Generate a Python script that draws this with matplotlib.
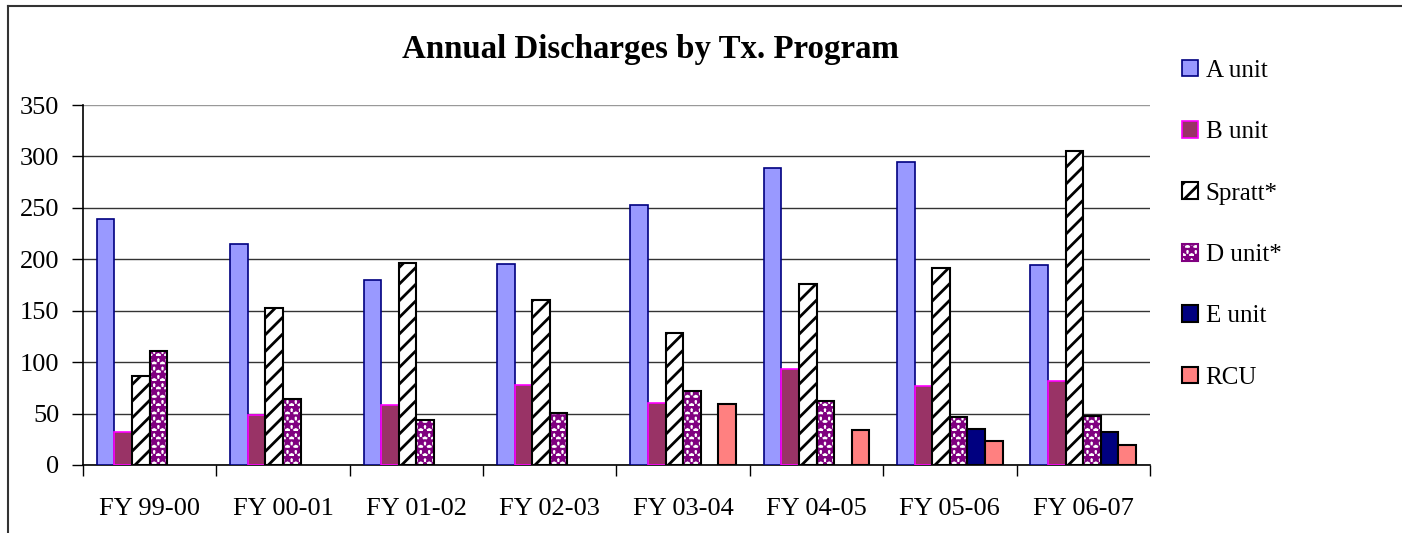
import numpy as np
import matplotlib
matplotlib.use('Agg')
import matplotlib.pyplot as plt
from matplotlib.patches import Patch
from matplotlib.lines import Line2D

plt.rcParams['font.family'] = 'Liberation Serif'
plt.rcParams['hatch.linewidth'] = 2.0

# data (nan = no bar)
years = ['FY 99-00', 'FY 00-01', 'FY 01-02', 'FY 02-03',
         'FY 03-04', 'FY 04-05', 'FY 05-06', 'FY 06-07']
a_unit = [239, 215, 180, 195, 253, 289, 295, 194]
b_unit = [32, 49, 58, 78, 60, 93, 77, 82]
spratt = [87, 153, 196, 160, 128, 176, 192, 305]
d_unit = [111, 64, 44, 51, 72, 62, 47, 48]
e_unit = [np.nan, np.nan, np.nan, np.nan, np.nan, np.nan, 35, 32]
rcu = [np.nan, np.nan, np.nan, np.nan, 59, 34, 23, 19]

fig = plt.figure(figsize=(14.02, 5.33), dpi=100)
ax = fig.add_axes([0.0592, 0.1276, 0.7610, 0.6754])

x = np.arange(len(years))
w = 0.132

ax.bar(x - 2.5*w, a_unit, w, color='#9999FF', edgecolor='#000080', linewidth=1.2, zorder=3)
ax.bar(x - 1.5*w, b_unit, w, color='#993366', edgecolor='#FF00FF', linewidth=1.2, zorder=3)
ax.bar(x - 0.5*w, spratt, w, color='white', edgecolor='black', hatch='//', linewidth=1.5, zorder=3)
# D unit: purple blobs, black outline drawn on top
ax.bar(x + 0.5*w, d_unit, w, color='white', edgecolor='#800080', hatch='**', linewidth=0, zorder=3)
ax.bar(x + 0.5*w, d_unit, w, fill=False, edgecolor='black', linewidth=1.5, zorder=4)
ax.bar(x + 1.5*w, e_unit, w, color='#000080', edgecolor='black', linewidth=1.5, zorder=3)
ax.bar(x + 2.5*w, rcu, w, color='#FF8080', edgecolor='black', linewidth=1.5, zorder=3)

ax.set_xlim(-0.5, len(years) - 0.5)
ax.set_ylim(0, 350)
ax.set_yticks(range(0, 351, 50))
ax.yaxis.grid(True, color='#333333', linewidth=1.0, zorder=0)
ax.get_ygridlines()[-1].set_color('#999999')
ax.set_axisbelow(True)

ax.set_xticks(x)
ax.set_xticklabels(years)
ax.set_xticks(np.arange(-0.5, len(years)), minor=True)
ax.tick_params(axis='x', which='major', length=0, pad=24, labelsize=19)
ax.tick_params(axis='x', which='minor', length=8, width=1, direction='out')
ax.tick_params(axis='y', length=8, width=1, direction='out', pad=9, labelsize=19)

for s in ['top', 'right']:
    ax.spines[s].set_visible(False)
ax.spines['left'].set_linewidth(1.2)
ax.spines['bottom'].set_linewidth(1.2)

fig.text(0.4636, 0.908, 'Annual Discharges by Tx. Program', ha='center', va='center',
         fontsize=23.7, fontweight='bold')

handles = [
    Patch(facecolor='#9999FF', edgecolor='#000080', linewidth=1.2),
    Patch(facecolor='#993366', edgecolor='#FF00FF', linewidth=1.2),
    Patch(facecolor='white', edgecolor='black', hatch='//', linewidth=1.5),
    Patch(facecolor='white', edgecolor='#800080', hatch='**', linewidth=1.5),
    Patch(facecolor='#000080', edgecolor='black', linewidth=1.5),
    Patch(facecolor='#FF8080', edgecolor='black', linewidth=1.5),
]
labels = ['A unit', 'B unit', 'Spratt*', 'D unit*', 'E unit', 'RCU']
fig.legend(handles, labels, loc='upper left', bbox_to_anchor=(0.843, 0.888),
           frameon=False, fontsize=18, handlelength=0.65, handleheight=0.65,
           handletextpad=0.3, labelspacing=1.57, borderaxespad=0, borderpad=0)

# outer frame (top and left only visible)
fig.add_artist(Line2D([0.0057, 1], [0.989, 0.989], color='#333333', linewidth=1.5))
fig.add_artist(Line2D([0.0057, 0.0057], [0, 0.989], color='#333333', linewidth=1.5))

fig.savefig('out.png', dpi=100)
